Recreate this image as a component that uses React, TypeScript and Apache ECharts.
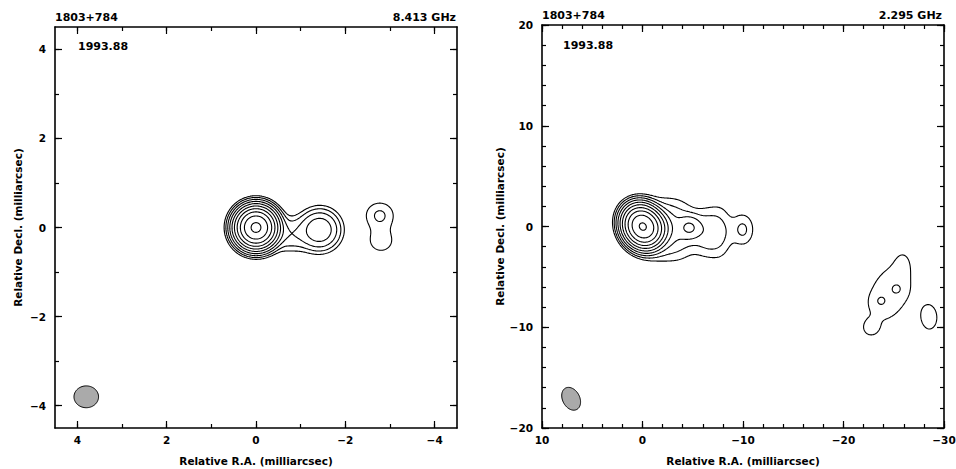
import React, { useEffect, useRef } from "react";
import * as echarts from "echarts";

// ---------- texts ----------
const sourceName = "1803+784";
const epochLabel = "1993.88";
const freqLabels = ["8.413 GHz", "2.295 GHz"];
const xAxisTitle = "Relative R.A. (milliarcsec)";
const yAxisTitle = "Relative Decl. (milliarcsec)";

// ---------- contour levels (multiples of the lowest contour) ----------
const contourLevels = [1, 2, 4, 8, 16, 32, 64, 128, 256, 512];

// ---------- 8.413 GHz brightness model (mas, relative to lowest contour) ----------
const xBandX = [0, -0.75, -1.43, -2.77, -2.8];
const xBandY = [0, -0.15, -0.05, 0.28, -0.3];
const xBandPeak = [595, 3.5, 14, 2.2, 1.5];
const xBandMajor = [0.47, 0.8, 0.56, 0.5, 0.55];
const xBandMinor = [0.47, 0.55, 0.56, 0.55, 0.6];
const xBandPA = [0, 90, 0, 0, 0];

// ---------- 2.295 GHz brightness model ----------
const sBandX = [0, -1.0, -2.2, -4.7, -4.0, -6.6, -7.9, -10.0, -24.6, -25.3, -23.7, -25.9, -22.7, -28.6];
const sBandY = [0, -0.1, -0.3, -0.1, -0.45, -0.6, -0.45, -0.3, -6.6, -6.2, -7.4, -3.3, -10.1, -9.1];
const sBandPeak = [540, 30, 5, 6.8, 0.8, 3.2, 0.8, 2.2, 1.4, 0.9, 0.9, 0.35, 0.8, 1.3];
const sBandMajor = [2.2, 2.0, 3.5, 1.6, 5.0, 2.8, 5.0, 2.6, 8.0, 1.2, 1.2, 2.4, 1.4, 3.1];
const sBandMinor = [1.9, 1.9, 4.0, 1.6, 2.2, 3.6, 1.8, 1.8, 5.0, 1.2, 1.2, 1.6, 1.4, 2.0];
const sBandPA = [30, 90, 90, 0, 0, 90, 0, 0, 153, 0, 0, 0, 0, 0];

// ---------- restoring beams ----------
const beamCenterX = [3.8, 7.1];
const beamCenterY = [-3.8, -17.1];
const beamMajor = [0.55, 2.4];
const beamMinor = [0.49, 1.7];
const beamPA = [90, 28];

// ---------- axes ----------
const xRange8 = [-4.5, 4.5];
const yRange8 = [-4.5, 4.5];
const ticks8 = [-4, -3, -2, -1, 0, 1, 2, 3, 4];
const labels8 = [-4, -2, 0, 2, 4];

const xRange2 = [-30, 10];
const yRange2 = [-20, 20];
const xTicks2 = [-30, -28, -26, -24, -22, -20, -18, -16, -14, -12, -10, -8, -6, -4, -2, 0, 2, 4, 6, 8, 10];
const yTicks2 = [-20, -18, -16, -14, -12, -10, -8, -6, -4, -2, 0, 2, 4, 6, 8, 10, 12, 14, 16, 18, 20];
const xLabels2 = [-30, -20, -10, 0, 10];
const yLabels2 = [-20, -10, 0, 10, 20];

const FONT = '"DejaVu Sans", Verdana, sans-serif';
const fmt = (v: number) => (v < 0 ? "\u2212" + Math.abs(v) : String(v));

type Model = { x: number[]; y: number[]; peak: number[]; major: number[]; minor: number[]; pa: number[] };

function evalModel(m: Model, x: number, y: number) {
  let s = 0;
  for (let k = 0; k < m.x.length; k++) {
    const dx = x - m.x[k];
    const dy = y - m.y[k];
    const t = (m.pa[k] * Math.PI) / 180;
    const a = dx * Math.sin(t) + dy * Math.cos(t);
    const b = dx * Math.cos(t) - dy * Math.sin(t);
    s += m.peak[k] * Math.exp(-4 * Math.LN2 * ((a * a) / (m.major[k] * m.major[k]) + (b * b) / (m.minor[k] * m.minor[k])));
  }
  return s;
}

function contours(m: Model, xr: number[], yr: number[], step: number, levels: number[]) {
  const nx = Math.round((xr[1] - xr[0]) / step) + 1;
  const ny = Math.round((yr[1] - yr[0]) / step) + 1;
  const v = new Float64Array(nx * ny);
  for (let j = 0; j < ny; j++)
    for (let i = 0; i < nx; i++) v[j * nx + i] = evalModel(m, xr[0] + i * step, yr[0] + j * step);
  const out: { level: number; pts: number[][] }[] = [];
  for (const L of levels) {
    const adj = new Map<number, number[]>();
    const link = (a: number, b: number) => {
      if (!adj.has(a)) adj.set(a, []);
      if (!adj.has(b)) adj.set(b, []);
      adj.get(a)!.push(b);
      adj.get(b)!.push(a);
    };
    for (let j = 0; j < ny - 1; j++) {
      for (let i = 0; i < nx - 1; i++) {
        const v0 = v[j * nx + i], v1 = v[j * nx + i + 1], v2 = v[(j + 1) * nx + i + 1], v3 = v[(j + 1) * nx + i];
        const c = (v0 > L ? 1 : 0) | (v1 > L ? 2 : 0) | (v2 > L ? 4 : 0) | (v3 > L ? 8 : 0);
        if (c === 0 || c === 15) continue;
        const e0 = (j * nx + i) * 2;
        const e1 = (j * nx + i + 1) * 2 + 1;
        const e2 = ((j + 1) * nx + i) * 2;
        const e3 = (j * nx + i) * 2 + 1;
        const centerAbove = (v0 + v1 + v2 + v3) / 4 > L;
        switch (c) {
          case 1: case 14: link(e3, e0); break;
          case 2: case 13: link(e0, e1); break;
          case 3: case 12: link(e3, e1); break;
          case 4: case 11: link(e1, e2); break;
          case 6: case 9: link(e0, e2); break;
          case 7: case 8: link(e3, e2); break;
          case 5:
            if (centerAbove) { link(e0, e1); link(e2, e3); } else { link(e3, e0); link(e1, e2); }
            break;
          case 10:
            if (centerAbove) { link(e3, e0); link(e1, e2); } else { link(e0, e1); link(e2, e3); }
            break;
        }
      }
    }
    const pt = (key: number) => {
      const idx = key >> 1;
      const i = idx % nx;
      const j = (idx - i) / nx;
      const va = v[idx];
      if ((key & 1) === 0) {
        const vb = v[idx + 1];
        const t = (L - va) / (vb - va);
        return [xr[0] + (i + t) * step, yr[0] + j * step];
      }
      const vb = v[idx + nx];
      const t = (L - va) / (vb - va);
      return [xr[0] + i * step, yr[0] + (j + t) * step];
    };
    const visited = new Set<number>();
    const walk = (start: number) => {
      const path = [start];
      visited.add(start);
      let cur = start;
      for (;;) {
        const nb = adj.get(cur)!.find((n) => !visited.has(n));
        if (nb === undefined) break;
        path.push(nb);
        visited.add(nb);
        cur = nb;
      }
      if (adj.get(cur)!.includes(start) && path.length > 2) path.push(start);
      out.push({ level: L, pts: path.map(pt) });
    };
    for (const [k, nb] of adj) if (nb.length === 1 && !visited.has(k)) walk(k);
    for (const k of adj.keys()) if (!visited.has(k)) walk(k);
  }
  return out;
}

function beamOutline(p: number) {
  const a = beamMajor[p] / 2, b = beamMinor[p] / 2;
  const t = (beamPA[p] * Math.PI) / 180;
  const pts: number[][] = [];
  for (let k = 0; k < 72; k++) {
    const th = (k / 72) * Math.PI * 2;
    const am = a * Math.cos(th), bm = b * Math.sin(th);
    pts.push([am * Math.sin(t) + bm * Math.cos(t), am * Math.cos(t) - bm * Math.sin(t)]);
  }
  return pts;
}

const tickLine = { color: "#000", width: 1.2 };
const labelStyle = { color: "#000", fontSize: 10.5, fontWeight: "bold" as const, fontFamily: FONT };

function axisSet(dim: "x" | "y", gridIndex: number, range: number[], inverse: boolean, majors: number[], minors: number[], labels: number[], nameGap: number) {
  const pos = dim === "x" ? ["bottom", "top"] : ["left", "right"];
  const base = { type: "value", gridIndex, min: range[0], max: range[1], inverse, splitLine: { show: false }, scale: true };
  return [
    {
      ...base,
      position: pos[0],
      name: dim === "x" ? xAxisTitle : yAxisTitle,
      nameLocation: "middle",
      nameGap,
      nameTextStyle: { ...labelStyle },
      axisLine: { show: true, onZero: false, lineStyle: { color: "#000", width: 1.6 } },
      axisTick: { show: true, inside: true, length: 7, customValues: majors, lineStyle: tickLine },
      axisLabel: { show: true, customValues: labels, formatter: fmt, margin: dim === "x" ? 6 : 9, ...labelStyle, showMinLabel: true, showMaxLabel: true },
    },
    {
      ...base,
      position: pos[0],
      axisLine: { show: false, onZero: false },
      axisTick: { show: true, inside: true, length: 4, customValues: minors, lineStyle: tickLine },
      axisLabel: { show: false },
    },
    {
      ...base,
      position: pos[1],
      axisLine: { show: true, onZero: false, lineStyle: { color: "#000", width: 1.6 } },
      axisTick: { show: true, inside: true, length: 7, customValues: majors, lineStyle: tickLine },
      axisLabel: { show: false },
    },
    {
      ...base,
      position: pos[1],
      axisLine: { show: false, onZero: false },
      axisTick: { show: true, inside: true, length: 4, customValues: minors, lineStyle: tickLine },
      axisLabel: { show: false },
    },
  ];
}

function buildOption() {
  const models: Model[] = [
    { x: xBandX, y: xBandY, peak: xBandPeak, major: xBandMajor, minor: xBandMinor, pa: xBandPA },
    { x: sBandX, y: sBandY, peak: sBandPeak, major: sBandMajor, minor: sBandMinor, pa: sBandPA },
  ];
  const xRanges = [xRange8, xRange2];
  const yRanges = [yRange8, yRange2];
  const steps = [0.02, 0.08];
  const grids = [
    { left: 55, top: 27, width: 402, height: 401, outerBoundsMode: "none" },
    { left: 542, top: 25, width: 402, height: 403, outerBoundsMode: "none" },
  ];
  const xAxes = [
    ...axisSet("x", 0, xRange8, true, labels8, ticks8, labels8, 27),
    ...axisSet("x", 1, xRange2, true, xLabels2, xTicks2, xLabels2, 27),
  ];
  const yAxes = [
    ...axisSet("y", 0, yRange8, false, labels8, ticks8, labels8, 32),
    ...axisSet("y", 1, yRange2, false, yLabels2, yTicks2, yLabels2, 33),
  ];
  const series: any[] = [];
  for (let p = 0; p < 2; p++) {
    const cs = contours(models[p], xRanges[p], yRanges[p], steps[p], contourLevels);
    for (const c of cs) {
      series.push({
        type: "line",
        xAxisIndex: p * 4,
        yAxisIndex: p * 4,
        data: c.pts,
        symbol: "none",
        showSymbol: false,
        silent: true,
        lineStyle: { color: "#000", width: 1.1 },
        z: 3,
      });
    }
    const outline = beamOutline(p);
    series.push({
      type: "custom",
      xAxisIndex: p * 4,
      yAxisIndex: p * 4,
      silent: true,
      z: 4,
      data: [[beamCenterX[p], beamCenterY[p]]],
      renderItem: (_params: any, api: any) => {
        const cx = api.value(0), cy = api.value(1);
        const pts = outline.map(([dx, dy]) => api.coord([cx + dx, cy + dy]));
        return { type: "polygon", shape: { points: pts }, style: { fill: "#aaaaaa", stroke: "#000", lineWidth: 1 } };
      },
    });
  }
  const text = (x: number, y: number, t: string, align: string) => ({
    type: "text",
    x,
    y,
    silent: true,
    style: { text: t, fill: "#000", font: `bold 11px ${FONT}`, align, verticalAlign: "middle" },
  });
  return {
    animation: false,
    backgroundColor: "#fff",
    grid: grids,
    xAxis: xAxes,
    yAxis: yAxes,
    series,
    graphic: [
      text(55, 17, sourceName, "left"),
      text(456, 17, freqLabels[0], "right"),
      text(78, 46, epochLabel, "left"),
      text(542, 15, sourceName, "left"),
      text(942, 15, freqLabels[1], "right"),
      text(563, 45, epochLabel, "left"),
    ],
  };
}

export default function App() {
  const ref = useRef<HTMLDivElement>(null);
  useEffect(() => {
    const chart = echarts.init(ref.current!, null, { renderer: "svg" });
    chart.setOption(buildOption() as any);
    return () => chart.dispose();
  }, []);
  return (
    <div
      ref={ref}
      style={{ position: "fixed", left: 0, top: 0, width: "956px", height: "469px", background: "#fff" }}
    />
  );
}
